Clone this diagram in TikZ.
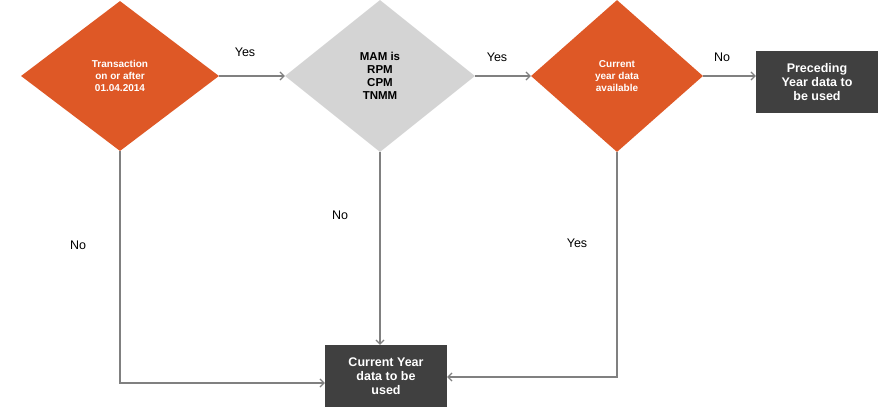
\documentclass[tikz,border=0pt]{standalone}
\usepackage{fontspec}
\setmainfont{Liberation Sans}
\usetikzlibrary{shapes.geometric,arrows.meta}
\definecolor{org}{RGB}{222,88,38}
\definecolor{gry}{RGB}{212,212,212}
\definecolor{dbox}{RGB}{64,64,64}
\definecolor{ln}{RGB}{128,128,128}
\begin{document}
\begin{tikzpicture}[x=1pt,y=-1pt,
  dia/.style={diamond,inner sep=0pt,align=center,font=\bfseries\fontsize{10}{12}\selectfont},
  odia/.style={dia,fill=org,text=white},
  gdia/.style={dia,fill=gry,text=black,font=\bfseries\fontsize{11.5}{13}\selectfont},
  dk/.style={fill=dbox,text=white,align=center,minimum width=122pt,minimum height=62pt,inner sep=1pt,font=\bfseries\fontsize{12.5}{14}\selectfont},
  con/.style={draw=ln,line width=1.2pt,-{Straight Barb[length=4pt,width=8pt]}},
  lb/.style={font=\fontsize{12.5}{14}\selectfont}]
\useasboundingbox (0,0) rectangle (894,413);
\node[odia,minimum width=198pt,minimum height=150pt] (d1) at (120,76) {Transaction\\on or after\\01.04.2014};
\node[gdia,minimum width=190pt,minimum height=152pt] (d2) at (380,76) {MAM is\\RPM\\CPM\\TNMM};
\node[odia,minimum width=172pt,minimum height=152pt] (d3) at (617,76) {Current\\year data\\available};
\node[dk] (p) at (817,82) {Preceding\\Year data to\\be used};
\node[dk] (c) at (386,376) {Current Year\\data to be\\used};
\coordinate (k1) at (120,383);
\coordinate (k3) at (617,377);
\draw[con] (d1.east) -- (d2.west);
\draw[con] (d2.east) -- (d3.west);
\draw[con] (d3.east) -- (d3.east -| p.west);
\draw[con] (d2.south) -- (c.north -| d2.south);
\draw[con] (d1.south) -- (k1) -- (k1 -| c.west);
\draw[con] (d3.south) -- (k3) -- (k3 -| c.east);
\node[lb] at (245,52) {Yes};
\node[lb] at (497,57) {Yes};
\node[lb] at (722,57) {No};
\node[lb] at (78,245) {No};
\node[lb] at (340,215) {No};
\node[lb] at (577,243) {Yes};
\end{tikzpicture}
\end{document}
